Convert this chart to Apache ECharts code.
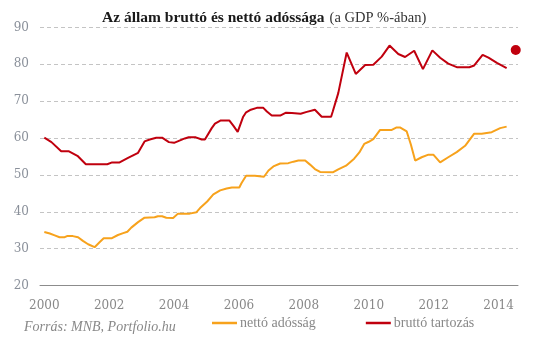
<!DOCTYPE html>
<html>
<head>
<meta charset="utf-8">
<script src="https://cdn.jsdelivr.net/npm/echarts@6/dist/echarts.min.js"></script>
<style>html,body{margin:0;padding:0;background:#fff;}#c{width:545px;height:350px;}</style>
</head>
<body>
<div id="c"></div>
<script>
var xTicks = [2000, 2002, 2004, 2006, 2008, 2010, 2012, 2014];
var yTicks = [20, 30, 40, 50, 60, 70, 80, 90];

var grossYears = [2000.00,2000.22,2000.52,2000.76,2001.02,2001.28,2001.94,2002.09,2002.32,2002.58,2002.89,2003.09,2003.25,2003.45,2003.63,2003.84,2004.00,2004.33,2004.45,2004.67,2004.85,2004.95,2005.16,2005.26,2005.44,2005.70,2005.83,2005.96,2006.13,2006.22,2006.34,2006.55,2006.75,2006.86,2007.01,2007.27,2007.45,2007.63,2007.90,2008.09,2008.34,2008.55,2008.84,2008.89,2009.06,2009.32,2009.60,2009.89,2010.14,2010.40,2010.64,2010.91,2011.12,2011.40,2011.67,2011.96,2012.20,2012.45,2012.73,2013.10,2013.25,2013.51,2013.69,2013.95,2014.25];
var grossValues = [60.1,58.9,56.4,56.4,55.2,52.9,52.9,53.4,53.4,54.6,56.0,59.1,59.6,60.1,60.1,58.9,58.7,59.9,60.2,60.2,59.6,59.6,62.7,63.9,64.8,64.8,63.3,61.7,65.8,67.0,67.6,68.2,68.2,67.2,66.1,66.1,66.9,66.8,66.6,67.1,67.7,65.8,65.8,67.2,72.2,83.2,77.4,79.8,79.9,82.1,85.1,82.8,82.0,83.7,78.7,83.8,81.8,80.2,79.2,79.2,79.7,82.6,81.8,80.4,79.0];

var netYears = [2000.00,2000.17,2000.32,2000.47,2000.63,2000.70,2000.88,2001.04,2001.19,2001.35,2001.55,2001.71,2001.83,2002.07,2002.27,2002.43,2002.56,2002.68,2002.89,2003.09,2003.40,2003.50,2003.63,2003.76,2003.97,2004.12,2004.48,2004.69,2004.80,2005.02,2005.21,2005.42,2005.62,2005.78,2006.01,2006.08,2006.22,2006.49,2006.55,2006.77,2006.91,2007.06,2007.27,2007.52,2007.68,2007.83,2008.04,2008.19,2008.34,2008.50,2008.89,2009.06,2009.30,2009.55,2009.71,2009.86,2010.00,2010.14,2010.35,2010.71,2010.86,2010.96,2011.17,2011.30,2011.43,2011.63,2011.84,2011.99,2012.20,2012.45,2012.71,2012.97,2013.25,2013.48,2013.79,2014.05,2014.25];
var netValues = [34.5,34.1,33.6,33.1,33.1,33.4,33.4,33.1,32.1,31.2,30.4,31.8,32.8,32.8,33.7,34.2,34.6,35.7,37.2,38.4,38.5,38.8,38.8,38.4,38.3,39.5,39.5,39.9,41.0,42.8,44.7,45.8,46.3,46.6,46.6,47.8,49.8,49.8,49.5,49.5,51.2,52.3,53.1,53.2,53.6,53.9,53.9,52.8,51.6,50.8,50.7,51.5,52.5,54.4,56.1,58.4,59.0,59.7,62.2,62.2,62.9,62.9,61.8,58.2,53.9,54.8,55.5,55.5,53.4,54.8,56.2,57.9,61.2,61.2,61.6,62.7,63.1];

var forecastYear = [2014.53];
var forecastValue = [83.9];

var seriesNames = ['nettó adósság', 'bruttó tartozás'];
var RED = '#c0000e', ORANGE = '#f7a21c';

function zip(a, b) { return a.map(function (v, i) { return [v, b[i]]; }); }

var chart = echarts.init(document.getElementById('c'));
chart.setOption({
  animation: false,
  backgroundColor: '#fff',
  title: [{
    text: '{b|Az állam bruttó és nettó adóssága} {n|(a GDP %-ában)}',
    left: 97, top: 4,
    textStyle: { fontWeight: 'normal', rich: {
      b: { fontFamily: 'Liberation Serif', fontWeight: 'bold', fontSize: 15.5, color: '#1a1a1a' },
      n: { fontFamily: 'Liberation Serif', fontWeight: 'normal', fontSize: 14.5, color: '#333' }
    } }
  }, {
    text: 'Forrás: MNB, Portfolio.hu',
    left: 19, top: 315,
    textStyle: { fontFamily: 'Liberation Serif', fontStyle: 'italic', fontWeight: 'normal', fontSize: 14, color: '#888' }
  }],
  legend: {
    data: seriesNames,
    left: 212, top: 316, padding: 0,
    icon: 'rect', itemWidth: 25, itemHeight: 2.5, itemGap: 50,
    textStyle: { fontFamily: 'Liberation Serif', fontSize: 14, color: '#888', padding: [0, 0, 0, -2] }
  },
  grid: { left: 40, right: 27, top: 27.5, bottom: 64.5 },
  xAxis: {
    type: 'value', min: 1999.867, max: 2014.6,
    axisLine: { show: true, lineStyle: { color: '#8c8c8c', width: 1 } },
    axisTick: { show: false },
    splitLine: { show: false },
    axisLabel: { customValues: xTicks, margin: 14, fontFamily: 'DejaVu Serif', fontSize: 12, color: '#888',
      formatter: function (v) { return String(v); } }
  },
  yAxis: {
    type: 'value', min: 20, max: 90, interval: 10,
    axisLine: { show: false }, axisTick: { show: false },
    splitLine: { lineStyle: { color: '#c4c4c4', type: [4, 3], width: 1 } },
    axisLabel: { customValues: yTicks, margin: 11, fontFamily: 'DejaVu Serif', fontSize: 12, color: '#8a909a' }
  },
  series: [{
    name: seriesNames[0], type: 'line', data: zip(netYears, netValues),
    showSymbol: false, symbol: 'none', lineStyle: { color: ORANGE, width: 2 }, itemStyle: { color: ORANGE }
  }, {
    name: seriesNames[1], type: 'line', data: zip(grossYears, grossValues),
    showSymbol: false, symbol: 'none', lineStyle: { color: RED, width: 2 }, itemStyle: { color: RED }
  }, {
    name: 'előrejelzés', type: 'scatter', data: zip(forecastYear, forecastValue),
    symbolSize: 10, itemStyle: { color: RED, opacity: 1 }, clip: false
  }]
});
</script>
</body>
</html>
